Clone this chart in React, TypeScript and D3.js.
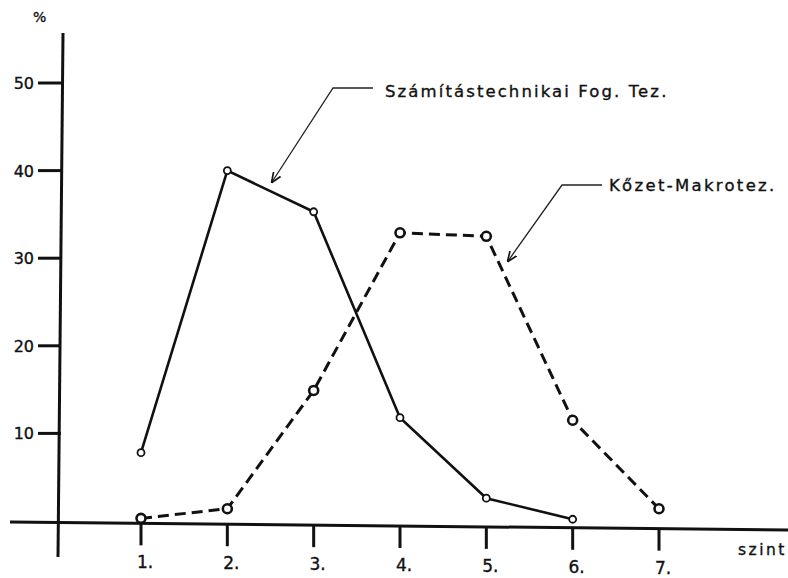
import React from "react";
import * as d3 from "d3";

const levels = [1, 2, 3, 4, 5, 6, 7];
const levelLabels = ["1.", "2.", "3.", "4.", "5.", "6.", "7."];
const yTicks = [10, 20, 30, 40, 50];
const szamitasLevels = [1, 2, 3, 4, 5, 6];
const szamitasValues = [7.8, 40, 35.3, 11.8, 2.6, 0.2];
const kozetLevels = [1, 2, 3, 4, 5, 6, 7];
const kozetValues = [0.3, 1.4, 14.9, 32.9, 32.5, 11.5, 1.4];
const seriesNames = ["Számítástechnikai Fog. Tez.", "Kőzet-Makrotez."];

export default function App() {
  const W = 788, H = 578;
  const x = d3.scaleLinear().domain([1, 7]).range([141, 659]);
  const y = d3.scaleLinear().domain([0, 50]).range([521, 83]);
  const axisX = 60;
  const font = "'DejaVu Sans', sans-serif";

  const line = d3.line<[number, number]>().x(d => x(d[0])).y(d => y(d[1]));
  const sData: [number, number][] = szamitasLevels.map((l, i) => [l, szamitasValues[i]]);
  const kData: [number, number][] = kozetLevels.map((l, i) => [l, kozetValues[i]]);
  const txt = { fontFamily: font, fill: "#111", stroke: "#111", strokeWidth: 0.35 } as const;

  return (
    <svg width={W} height={H} style={{ position: "absolute", left: 0, top: 0, background: "#fff" }}>
      <defs>
        <marker id="arr" viewBox="0 0 10 10" refX="9" refY="5" markerWidth="8" markerHeight="8" orient="auto">
          <path d="M0,1 L10,5 L0,9" fill="none" stroke="#111" strokeWidth="1.6" />
        </marker>
      </defs>
      {/* axes */}
      <line x1={axisX + 3} y1={33} x2={axisX - 2} y2={557} stroke="#111" strokeWidth={3} />
      <line x1={10} y1={522} x2={788} y2={530} stroke="#111" strokeWidth={3} />
      <text x={33} y={22} fontSize={14} {...txt}>%</text>
      {yTicks.map(t => (
        <g key={t}>
          <line x1={axisX - 22} x2={axisX + 1} y1={y(t)} y2={y(t)} stroke="#111" strokeWidth={3} />
          <text x={axisX - 26} y={y(t) + 6} textAnchor="end" fontSize={16} {...txt}>{t}</text>
        </g>
      ))}
      {levels.map((l, i) => {
        const by = 522 + (x(l) - 10) * 8 / 778;
        return (
          <g key={l}>
            <line x1={x(l)} x2={x(l)} y1={by} y2={by + 22} stroke="#111" strokeWidth={3} />
            <text x={x(l) + 4} y={by + 45} textAnchor="middle" fontSize={17} {...txt}>{levelLabels[i]}</text>
          </g>
        );
      })}
      <text x={738} y={555} fontSize={15.5} letterSpacing={2.5} {...txt}>szint</text>

      {/* series */}
      <path d={line(sData) || ""} fill="none" stroke="#111" strokeWidth={2.6} />
      <path d={line(kData) || ""} fill="none" stroke="#111" strokeWidth={3} strokeDasharray="11,6" />
      {sData.map((d, i) => (
        <circle key={"s" + i} cx={x(d[0])} cy={y(d[1])} r={3.5} fill="#fff" stroke="#111" strokeWidth={1.8} />
      ))}
      {kData.map((d, i) => (
        <circle key={"k" + i} cx={x(d[0])} cy={y(d[1])} r={4.5} fill="#fff" stroke="#111" strokeWidth={2.6} />
      ))}

      {/* annotations */}
      <path d="M373,88 L333,88 L272,182" fill="none" stroke="#222" strokeWidth={1.3} markerEnd="url(#arr)" />
      <text x={385} y={97} fontSize={16.5} letterSpacing={2.1} {...txt}>{seriesNames[0]}</text>
      <path d="M602,185 L562,185 L508,261" fill="none" stroke="#222" strokeWidth={1.3} markerEnd="url(#arr)" />
      <text x={609} y={191} fontSize={16.5} letterSpacing={2.3} {...txt}>{seriesNames[1]}</text>
    </svg>
  );
}
